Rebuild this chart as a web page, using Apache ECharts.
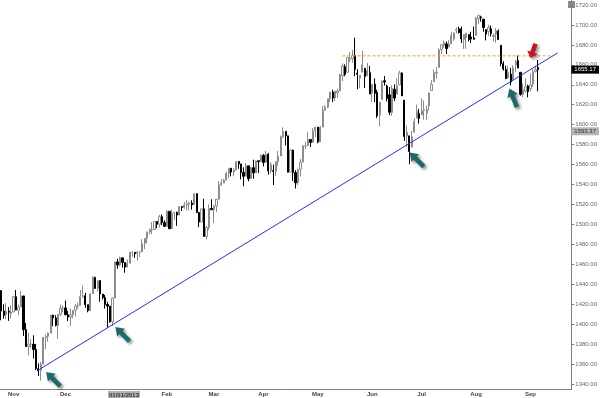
<!DOCTYPE html>
<html>
<head>
<meta charset="utf-8">
<script src="https://cdn.jsdelivr.net/npm/echarts@6/dist/echarts.min.js"></script>
<style>
  html, body { margin: 0; padding: 0; background: #fff; }
  #main { width: 600px; height: 398px; }
</style>
</head>
<body>
<div id="main"></div>
<script>
// trading days, Oct 2012 - Sep 2013
var dates = [
  '2012-10-23','2012-10-24','2012-10-25','2012-10-26','2012-10-31',
  '2012-11-01','2012-11-02','2012-11-05','2012-11-06','2012-11-07','2012-11-08','2012-11-09','2012-11-12','2012-11-13','2012-11-14','2012-11-15',
  '2012-11-16','2012-11-19','2012-11-20','2012-11-21','2012-11-23','2012-11-26','2012-11-27','2012-11-28','2012-11-29','2012-11-30',
  '2012-12-03','2012-12-04','2012-12-05','2012-12-06','2012-12-07','2012-12-10','2012-12-11','2012-12-12','2012-12-13','2012-12-14',
  '2012-12-17','2012-12-18','2012-12-19','2012-12-20','2012-12-21','2012-12-24','2012-12-26','2012-12-27','2012-12-28','2012-12-31',
  '2013-01-02','2013-01-03','2013-01-04','2013-01-07','2013-01-08','2013-01-09','2013-01-10','2013-01-11','2013-01-14','2013-01-15','2013-01-16',
  '2013-01-17','2013-01-18','2013-01-22','2013-01-23','2013-01-24','2013-01-25','2013-01-28','2013-01-29','2013-01-30','2013-01-31',
  '2013-02-01','2013-02-04','2013-02-05','2013-02-06','2013-02-07','2013-02-08','2013-02-11','2013-02-12','2013-02-13','2013-02-14',
  '2013-02-15','2013-02-19','2013-02-20','2013-02-21','2013-02-22','2013-02-25','2013-02-26','2013-02-27','2013-02-28',
  '2013-03-01','2013-03-04','2013-03-05','2013-03-06','2013-03-07','2013-03-08','2013-03-11','2013-03-12','2013-03-13','2013-03-14',
  '2013-03-15','2013-03-18','2013-03-19','2013-03-20','2013-03-21','2013-03-22','2013-03-25','2013-03-26','2013-03-27','2013-03-28',
  '2013-04-01','2013-04-02','2013-04-03','2013-04-04','2013-04-05','2013-04-08','2013-04-09','2013-04-10','2013-04-11','2013-04-12','2013-04-15',
  '2013-04-16','2013-04-17','2013-04-18','2013-04-19','2013-04-22','2013-04-23','2013-04-24','2013-04-25','2013-04-26','2013-04-29','2013-04-30',
  '2013-05-01','2013-05-02','2013-05-03','2013-05-06','2013-05-07','2013-05-08','2013-05-09','2013-05-10','2013-05-13','2013-05-14','2013-05-15',
  '2013-05-16','2013-05-17','2013-05-20','2013-05-21','2013-05-22','2013-05-23','2013-05-24','2013-05-28','2013-05-29','2013-05-30','2013-05-31',
  '2013-06-03','2013-06-04','2013-06-05','2013-06-06','2013-06-07','2013-06-10','2013-06-11','2013-06-12','2013-06-13','2013-06-14',
  '2013-06-17','2013-06-18','2013-06-19','2013-06-20','2013-06-21','2013-06-24','2013-06-25','2013-06-26','2013-06-27','2013-06-28',
  '2013-07-01','2013-07-02','2013-07-03','2013-07-05','2013-07-08','2013-07-09','2013-07-10','2013-07-11','2013-07-12','2013-07-15','2013-07-16',
  '2013-07-17','2013-07-18','2013-07-19','2013-07-22','2013-07-23','2013-07-24','2013-07-25','2013-07-26','2013-07-29','2013-07-30','2013-07-31',
  '2013-08-01','2013-08-02','2013-08-05','2013-08-06','2013-08-07','2013-08-08','2013-08-09','2013-08-12','2013-08-13','2013-08-14','2013-08-15',
  '2013-08-16','2013-08-19','2013-08-20','2013-08-21','2013-08-22','2013-08-23','2013-08-26','2013-08-27','2013-08-28','2013-08-29','2013-08-30',
  '2013-09-03','2013-09-04','2013-09-05','2013-09-06'
];

// [open, close, low, high]
var ohlc = [
  [1433.7,1413.1,1403.9,1433.7],[1413.2,1408.8,1405.5,1420.0],[1409.7,1413.0,1405.1,1421.0],[1412.9,1411.9,1403.3,1417.1],[1410.5,1412.2,1405.6,1418.8],
  // Nov
  [1412.2,1427.6,1412.2,1428.4],[1427.6,1414.2,1414.0,1434.3],[1414.0,1417.3,1409.1,1419.8],[1417.3,1428.4,1417.3,1433.4],[1428.3,1394.5,1388.1,1428.3],
  [1394.5,1377.5,1377.5,1401.2],[1377.6,1379.9,1368.7,1391.4],[1379.9,1380.0,1376.0,1384.9],[1380.0,1374.5,1365.6,1388.8],[1374.6,1355.5,1354.0,1380.1],
  [1355.4,1353.3,1348.0,1360.6],[1353.4,1359.9,1343.4,1362.0],[1359.9,1386.9,1359.9,1386.9],[1386.8,1387.8,1374.8,1389.8],[1387.8,1391.0,1382.4,1391.7],
  [1391.0,1409.2,1391.0,1409.2],[1409.2,1406.3,1398.0,1409.2],[1406.3,1398.9,1397.7,1409.0],[1398.8,1409.9,1385.4,1410.0],[1409.9,1416.0,1408.1,1419.7],
  [1415.9,1416.2,1411.9,1418.9],
  // Dec
  [1416.3,1409.5,1409.0,1423.7],[1409.5,1407.1,1403.1,1413.1],[1407.1,1409.3,1398.2,1415.6],[1409.4,1413.9,1405.9,1413.9],[1413.9,1418.1,1407.6,1420.3],
  [1418.1,1418.6,1415.4,1421.6],[1418.6,1427.8,1418.6,1434.3],[1427.8,1428.5,1426.3,1438.6],[1428.5,1419.5,1416.4,1431.4],[1419.5,1413.6,1411.9,1419.5],
  [1413.5,1430.4,1413.5,1430.7],[1430.5,1446.8,1430.5,1448.0],[1446.8,1435.8,1435.8,1447.8],[1435.8,1443.7,1432.8,1443.7],[1443.7,1430.2,1422.6,1443.7],
  [1430.2,1426.7,1424.7,1430.2],[1426.7,1419.8,1415.6,1429.4],[1419.8,1418.1,1396.6,1422.4],[1418.1,1402.4,1401.6,1418.1],[1402.4,1426.2,1398.1,1426.7],
  // Jan
  [1426.2,1462.4,1426.2,1462.4],[1462.4,1459.4,1455.5,1465.5],[1459.4,1466.5,1458.0,1467.9],[1466.5,1461.9,1456.6,1466.5],[1461.9,1457.2,1451.6,1461.9],
  [1457.2,1461.0,1457.2,1464.7],[1461.0,1472.1,1461.0,1472.3],[1472.1,1472.1,1467.6,1472.8],[1472.1,1470.7,1466.4,1472.1],[1470.7,1472.3,1463.8,1473.3],
  [1472.3,1472.6,1467.3,1473.0],[1472.6,1480.9,1472.6,1485.2],[1480.9,1486.0,1475.3,1486.0],[1486.0,1492.6,1481.2,1492.6],[1492.6,1494.8,1489.9,1496.1],
  [1494.8,1494.8,1490.2,1502.3],[1494.8,1503.0,1494.8,1503.3],[1503.0,1500.2,1496.3,1503.2],[1500.2,1507.8,1496.9,1509.7],[1507.8,1502.0,1499.3,1509.9],
  [1502.0,1498.1,1497.3,1504.2],
  // Feb
  [1498.1,1513.2,1498.1,1514.4],[1513.2,1495.7,1495.3,1513.2],[1495.7,1511.3,1495.7,1514.8],[1511.3,1512.1,1504.7,1512.5],[1512.1,1509.4,1498.5,1512.9],
  [1509.4,1517.9,1509.4,1518.3],[1517.9,1517.0,1513.5,1518.3],[1517.0,1519.4,1515.6,1522.3],[1519.4,1520.3,1514.0,1524.7],[1520.3,1521.4,1514.0,1523.1],
  [1521.4,1519.8,1514.8,1524.2],[1519.8,1530.9,1519.8,1530.9],[1530.9,1512.0,1511.4,1530.9],[1512.0,1502.4,1497.3,1512.0],[1502.4,1515.6,1502.4,1515.6],
  [1515.6,1487.9,1487.9,1525.8],[1487.9,1496.9,1485.0,1498.5],[1496.9,1516.0,1494.4,1520.1],[1516.0,1514.7,1514.6,1525.3],
  // Mar
  [1514.7,1518.2,1501.5,1520.0],[1518.2,1525.2,1512.3,1525.3],[1525.2,1539.8,1525.2,1543.5],[1539.8,1541.5,1538.6,1545.3],[1541.5,1544.3,1541.5,1545.8],
  [1544.3,1551.2,1544.3,1552.5],[1551.2,1556.2,1546.2,1556.3],[1556.2,1552.5,1548.2,1556.8],[1552.5,1554.5,1548.2,1556.4],[1554.5,1563.2,1554.5,1563.3],
  [1563.2,1560.7,1555.7,1563.6],[1560.7,1552.1,1545.1,1560.7],[1552.1,1548.3,1538.3,1557.3],[1548.3,1558.7,1548.3,1561.6],[1558.7,1545.8,1543.2,1558.7],
  [1545.9,1556.9,1545.9,1557.7],[1556.9,1551.7,1545.8,1564.9],[1551.7,1563.8,1551.7,1563.9],[1563.8,1562.9,1551.6,1564.1],[1562.9,1569.2,1562.9,1570.3],
  // Apr
  [1569.2,1562.2,1558.2,1570.6],[1562.2,1570.3,1562.2,1573.7],[1570.3,1553.7,1549.9,1571.5],[1553.7,1560.0,1551.0,1562.6],[1554.0,1553.3,1539.5,1560.0],
  [1553.3,1563.1,1548.6,1563.1],[1563.1,1568.6,1558.9,1573.7],[1568.6,1587.7,1568.6,1589.1],[1587.7,1593.4,1586.9,1597.4],[1593.3,1588.9,1579.0,1593.3],
  [1588.8,1552.4,1552.3,1588.8],[1552.4,1574.6,1552.4,1575.4],[1574.6,1552.0,1543.5,1574.6],[1552.0,1541.6,1536.0,1554.4],[1541.6,1555.3,1539.4,1555.9],
  [1555.3,1562.5,1548.2,1565.6],[1562.5,1578.8,1562.5,1579.6],[1578.8,1578.8,1575.2,1583.0],[1578.8,1585.2,1578.8,1592.6],[1585.2,1582.2,1577.6,1585.2],
  [1582.3,1593.6,1582.3,1596.7],[1593.6,1597.6,1587.4,1597.6],
  // May
  [1597.6,1582.7,1581.3,1597.6],[1582.8,1597.6,1582.8,1598.6],[1597.6,1614.4,1597.6,1618.5],[1614.4,1617.5,1614.1,1619.8],[1617.5,1626.0,1616.6,1626.0],
  [1626.0,1632.7,1622.7,1632.8],[1632.7,1626.7,1622.7,1635.0],[1626.7,1633.7,1623.7,1633.7],[1632.1,1633.8,1626.7,1636.0],[1633.8,1650.3,1633.8,1651.1],
  [1649.1,1658.8,1643.6,1661.5],[1658.1,1650.5,1648.6,1660.5],[1652.5,1667.5,1652.5,1667.5],[1665.7,1666.3,1662.5,1672.8],[1666.2,1669.2,1662.0,1674.9],
  [1669.4,1655.4,1648.6,1687.2],[1651.6,1650.5,1635.5,1655.5],[1646.7,1649.6,1636.6,1649.8],[1652.6,1660.1,1652.6,1674.2],[1656.6,1648.4,1636.9,1656.6],
  [1649.1,1654.4,1649.1,1661.9],[1652.1,1630.7,1630.7,1659.0],
  // Jun
  [1631.7,1640.4,1622.7,1640.4],[1640.7,1631.4,1622.6,1646.5],[1632.4,1608.9,1606.7,1635.0],[1609.9,1622.6,1598.2,1622.6],[1625.3,1643.4,1625.3,1644.4],
  [1644.0,1642.8,1639.3,1648.7],[1638.6,1626.1,1623.3,1640.1],[1629.9,1612.5,1609.6,1637.7],[1612.2,1636.4,1608.9,1639.3],[1635.5,1626.7,1623.6,1640.4],
  [1630.6,1639.0,1630.6,1646.5],[1639.8,1651.8,1639.8,1654.2],[1651.8,1628.9,1628.9,1652.5],[1624.6,1588.2,1583.7,1624.6],[1588.6,1592.4,1577.7,1599.2],
  [1588.8,1573.1,1560.3,1588.8],[1577.5,1588.0,1577.5,1593.8],[1592.3,1603.3,1592.3,1606.8],[1606.4,1613.2,1606.4,1620.1],[1611.1,1606.3,1601.1,1615.9],
  // Jul
  [1609.8,1614.1,1609.8,1626.6],[1614.3,1615.0,1605.0,1624.3],[1611.5,1615.4,1604.6,1619.0],[1618.7,1631.9,1614.3,1632.1],[1634.2,1640.5,1634.2,1644.7],
  [1642.9,1652.3,1642.9,1655.2],[1651.6,1652.6,1646.4,1657.9],[1657.4,1675.0,1657.4,1676.6],[1675.3,1680.2,1670.6,1680.2],[1679.6,1682.5,1677.1,1684.5],
  [1681.0,1676.3,1670.7,1683.4],[1677.9,1680.9,1677.9,1684.8],[1681.1,1689.4,1681.1,1693.1],[1686.2,1692.1,1684.1,1692.1],[1694.4,1695.5,1691.5,1697.6],
  [1696.1,1692.4,1691.3,1698.4],[1696.1,1685.9,1681.9,1698.4],[1685.2,1690.3,1676.0,1690.9],[1687.3,1691.7,1676.0,1691.9],[1690.3,1685.3,1683.4,1690.9],
  [1687.9,1686.0,1681.9,1693.2],[1687.0,1685.7,1685.3,1698.4],
  // Aug
  [1689.4,1706.9,1689.4,1707.9],[1706.1,1709.7,1700.7,1709.7],[1708.0,1707.1,1703.2,1709.2],[1705.8,1697.4,1693.2,1705.8],[1695.3,1690.9,1684.5,1695.3],
  [1693.4,1697.5,1689.0,1700.2],[1696.1,1691.4,1688.4,1699.4],[1688.4,1689.5,1683.4,1691.5],[1690.7,1694.2,1682.3,1696.8],[1693.9,1685.4,1684.8,1695.5],
  [1679.6,1661.3,1658.6,1679.6],[1661.2,1655.8,1654.2,1663.6],[1655.3,1646.1,1646.1,1659.2],[1646.8,1652.4,1646.7,1658.9],[1650.7,1642.8,1639.4,1657.0],
  [1645.0,1657.0,1645.0,1659.6],[1659.9,1663.5,1652.9,1664.9],[1664.3,1656.8,1656.6,1669.5],[1652.5,1630.5,1629.1,1652.5],[1630.3,1635.0,1627.5,1641.2],
  [1633.5,1638.2,1632.3,1646.4],[1638.9,1633.0,1627.5,1640.1],
  // Sep
  [1635.9,1639.8,1633.4,1651.4],[1640.7,1653.1,1637.7,1655.7],[1653.3,1655.1,1652.2,1659.2],[1657.4,1655.2,1633.4,1664.8]
];

var monthLabels = ['Nov', 'Dec', '01/01/2013', 'Feb', 'Mar', 'Apr', 'May', 'Jun', 'Jul', 'Aug', 'Sep'];
var yTicks = [1340, 1360, 1380, 1400, 1420, 1440, 1460, 1480, 1500, 1520, 1540, 1560, 1580, 1600,
              1620, 1640, 1660, 1680, 1700, 1720];

var lastPrice = 1655.17;
var markedPrice = 1593.37;
var trendFrom = [15, 1354];
var trendTo = [225, 1672];
var resistance = 1669;      // dashed level from the May high
var resistanceFrom = 138, resistanceTo = 222;
// arrows: [index, value, rotation]
var tealArrows = [[21, 1345, 45], [49, 1390, 45], [168, 1565, 45], [207, 1627, 22]];
var redArrow = [215, 1674, 160];

// first trading day of each month gets a label
var labelAt = {};
var k = 0;
for (var i = 1; i < dates.length; i++) {
  if (dates[i].slice(5, 7) !== dates[i - 1].slice(5, 7)) {
    labelAt[i] = monthLabels[k++];
  }
}

// two-point helper lines on the category axis
function twoPoint(a, va, b, vb) {
  var arr = [];
  for (var j = 0; j <= b; j++) arr.push(null);
  arr[a] = va;
  arr[b] = vb;
  return arr;
}

var arrowPath = 'path://M6,0 L12,8 L8.5,8 L8.5,20 L3.5,20 L3.5,8 L0,8 Z';
var arrowPoints = tealArrows.map(function (a) {
  return {
    coord: [a[0], a[1]], symbolRotate: a[2], symbolSize: [11, 20],
    itemStyle: { color: '#1d6a6c', shadowColor: 'rgba(0,0,0,0.45)', shadowBlur: 3, shadowOffsetX: 2, shadowOffsetY: 2 }
  };
});
arrowPoints.push({
  coord: [redArrow[0], redArrow[1]], symbolRotate: redArrow[2], symbolSize: [11, 15],
  itemStyle: { color: '#c8151b', shadowColor: 'rgba(0,0,0,0.4)', shadowBlur: 3, shadowOffsetX: 2, shadowOffsetY: 2 }
});

var badge = function (text, bg, fg) {
  return {
    show: true, position: 'end', distance: 0, formatter: text, fontSize: 6, opacity: 1,
    color: fg, backgroundColor: bg, padding: [1, 3, 1, 3], fontFamily: 'Liberation Sans'
  };
};

var chart = echarts.init(document.getElementById('main'));
chart.setOption({
  backgroundColor: '#ffffff',
  animation: false,
  grid: { left: 0, right: 22, top: 0, bottom: 8 },
  xAxis: {
    type: 'category',
    data: dates,
    max: 230,
    axisLine: { lineStyle: { color: '#808080', width: 1 } },
    axisTick: {
      alignWithLabel: true, length: 2, lineStyle: { color: '#808080' },
      interval: function (idx) { return labelAt[idx] !== undefined; }
    },
    axisLabel: {
      margin: 2,
      fontSize: 6,
      fontWeight: 'bold',
      color: '#444',
      fontFamily: 'Liberation Sans',
      interval: function (idx) { return labelAt[idx] !== undefined; },
      formatter: function (v, idx) {
        var s = labelAt[idx] || '';
        return s.indexOf('/') > 0 ? '{sp|}{hl|' + s + '}' : s;
      },
      rich: {
        sp: { width: 18 },
        hl: { backgroundColor: '#b4b4b4', color: '#333', fontSize: 6, fontWeight: 'bold', padding: [1, 1, 0, 1] }
      }
    },
    splitLine: { show: false }
  },
  yAxis: {
    type: 'value',
    position: 'right',
    min: 1335,
    max: 1725,
    axisLine: { show: true, lineStyle: { color: '#808080', width: 1 } },
    axisTick: { show: true, length: 3, customValues: yTicks, lineStyle: { color: '#808080' } },
    axisLabel: {
      customValues: yTicks,
      margin: 4,
      fontSize: 6,
      color: '#666',
      fontFamily: 'Liberation Sans',
      formatter: function (v) { return v.toFixed(2); }
    },
    splitLine: { show: false }
  },
  graphic: [{
    type: 'rect', right: 25, top: 1, shape: { width: 7, height: 7 },
    style: { fill: '#8a8a8a' }
  }],
  series: [{
    type: 'candlestick',
    data: ohlc,
    barWidth: '70%',
    z: 2,
    itemStyle: {
      color: '#ffffff',
      color0: '#000000',
      borderColor: '#8c8c8c',
      borderColor0: '#000000',
      borderWidth: 1
    },
    markPoint: {
      silent: true,
      symbol: arrowPath,
      label: { show: false },
      data: arrowPoints
    }
  }, {
    name: 'trend',
    type: 'line',
    data: twoPoint(trendFrom[0], trendFrom[1], trendTo[0], trendTo[1]),
    connectNulls: true,
    clip: false,
    symbol: 'none',
    silent: true,
    z: 3,
    lineStyle: { color: '#2a2aff', width: 1 },
    markLine: {
      silent: true,
      symbol: 'none',
      data: [
        { yAxis: lastPrice, lineStyle: { color: 'rgba(0,0,0,0)', width: 0 }, label: badge(lastPrice.toFixed(2), '#000', '#fff') },
        { yAxis: markedPrice, lineStyle: { color: 'rgba(0,0,0,0)', width: 0 }, label: badge(markedPrice.toFixed(2), '#b4b4b4', '#333') }
      ]
    }
  }, {
    name: 'resistance',
    type: 'line',
    data: twoPoint(resistanceFrom, resistance, resistanceTo, resistance),
    connectNulls: true,
    symbol: 'none',
    silent: true,
    z: 3,
    lineStyle: { color: '#f0a030', width: 1, type: [3, 2] }
  }]
});
</script>
</body>
</html>
